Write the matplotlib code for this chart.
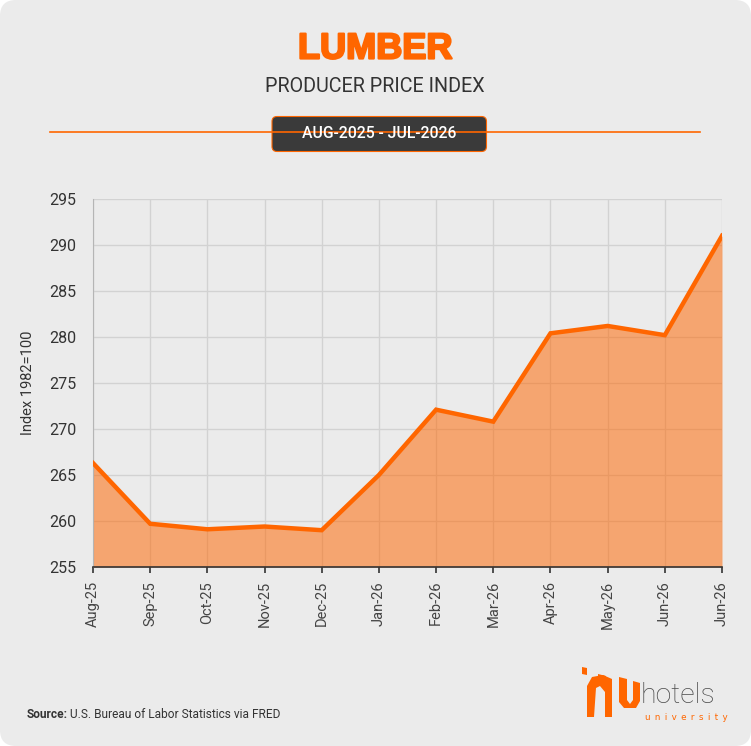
import matplotlib
matplotlib.use("Agg")
import matplotlib.pyplot as plt
import matplotlib.patheffects as pe
from matplotlib.patches import FancyBboxPatch, Polygon
import numpy as np

# data
months = ["Aug-25", "Sep-25", "Oct-25", "Nov-25", "Dec-25", "Jan-26",
          "Feb-26", "Mar-26", "Apr-26", "May-26", "Jun-26", "Jun-26"]
ppi = [266.3, 259.7, 259.1, 259.4, 259.0, 265.0,
       272.1, 270.8, 280.4, 281.2, 280.2, 291.0]
y_ticks = [255, 260, 265, 270, 275, 280, 285, 290, 295]

title = "LUMBER"
subtitle = "PRODUCER PRICE INDEX"
period = "AUG-2025 - JUL-2026"
y_label = "Index 1982=100"

orange = "#ff6600"
bg = "#ebebeb"
dark = "#333333"

plt.rcParams["font.family"] = ["Roboto", "DejaVu Sans"]

W, H = 751, 746
fig = plt.figure(figsize=(W / 100, H / 100), dpi=100)
fig.patch.set_facecolor("white")

# decoration layer in pixel coordinates
deco = fig.add_axes([0, 0, 1, 1], zorder=0)
deco.set_xlim(0, W)
deco.set_ylim(H, 0)
deco.axis("off")
deco.add_patch(FancyBboxPatch((0, 0), W, H, boxstyle="round,pad=0,rounding_size=16",
                              fc=bg, ec="none"))

deco.text(375, 49, title, ha="center", va="center", color=orange,
          family=["Liberation Sans", "DejaVu Sans"], fontsize=26, fontweight="bold",
          path_effects=[pe.withStroke(linewidth=1.6, foreground=orange)])
deco.text(375, 87, subtitle, ha="center", va="center", color=dark, fontsize=14.2)

deco.plot([50, 700], [132, 132], color=orange, lw=1.2)
deco.add_patch(FancyBboxPatch((272, 116.5), 214.5, 35, boxstyle="round,pad=0,rounding_size=5",
                              fc="#3a3a3a", ec=orange, lw=0.8))
deco.text(379, 134, period, ha="center", va="center", color="white",
          fontsize=11.3, fontweight="medium")

deco.text(27, 714, "Source:", ha="left", va="center", color=dark, fontsize=8.6, fontweight="bold")
deco.text(70, 714, "U.S. Bureau of Labor Statistics via FRED", ha="left", va="center",
          color=dark, fontsize=8.6)

# logo, roughly
deco.add_patch(Polygon([(582, 667), (587, 668), (587, 675), (582, 674)], fc=orange, ec="none"))
deco.add_patch(Polygon([(587, 717), (587, 686), (592, 677), (603, 675), (612, 679),
                        (612, 717), (605, 717), (605, 692), (600, 686), (596, 688),
                        (594, 717)], fc=orange, ec="none"))
deco.add_patch(Polygon([(598, 674), (606, 676), (606, 680), (598, 678)], fc=orange, ec="none"))
deco.add_patch(Polygon([(619, 677), (627, 679), (627, 700), (630, 704), (633, 700),
                        (633, 681), (640, 683), (640, 701), (636, 708), (624, 708),
                        (619, 702)], fc=orange, ec="none"))
deco.text(641, 703, "hotels", ha="left", va="baseline", color="#4a4a4a", fontsize=20.5,
          fontweight="light")
deco.text(645, 717, "\u2002".join("university"), ha="left", va="center", color=orange,
          fontsize=6.3, family=["DejaVu Sans"])

# chart
ax = fig.add_axes([93 / W, 1 - 567 / H, (722 - 93) / W, (567 - 199) / H], zorder=1)
ax.patch.set_alpha(0)
x = np.arange(len(months))
ax.fill_between(x, ppi, 255, color=orange, alpha=0.52, lw=0, zorder=2)
ax.plot(x, ppi, color=orange, lw=3.2, solid_joinstyle="miter", zorder=3)

ax.set_xlim(0, len(months) - 1)
ax.set_ylim(255, 295)
ax.set_xticks(x)
ax.set_xticklabels(months, rotation=90)
ax.set_yticks(y_ticks)
ax.grid(True, color="#d2d2d2", lw=1, zorder=1)
ax.set_axisbelow(True)
ax.tick_params(axis="y", length=0, pad=12, labelsize=11.5, labelcolor=dark)
ax.tick_params(axis="x", length=4, width=1.2, color=dark, pad=6, labelsize=10.5,
               labelcolor="#444444")
for s in ["top", "right"]:
    ax.spines[s].set_visible(False)
ax.spines["left"].set_color("#b5b5b5")
ax.spines["bottom"].set_color(dark)
ax.spines["bottom"].set_linewidth(1.2)
ax.set_ylabel(y_label, fontsize=10.5, color=dark, labelpad=10)

fig.savefig("out.png", dpi=100, facecolor=fig.get_facecolor())
